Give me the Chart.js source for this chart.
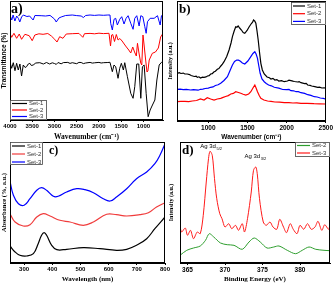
<!DOCTYPE html>
<html>
<head>
<meta charset="utf-8">
<script src="https://cdn.jsdelivr.net/npm/chart.js@4.4.1/dist/chart.umd.min.js"></script>
<style>
html, body { margin: 0; padding: 0; background: #fff; }
#wrap { position: relative; width: 334px; height: 284px; overflow: hidden; }
.panel { position: absolute; }
</style>
</head>
<body>
<div id="wrap">
  <div class="panel" style="left:0;top:0;width:165px;height:142px"><canvas id="chartA"></canvas></div>
  <div class="panel" style="left:167px;top:0;width:167px;height:142px"><canvas id="chartB"></canvas></div>
  <div class="panel" style="left:0;top:140px;width:174px;height:144px"><canvas id="chartC"></canvas></div>
  <div class="panel" style="left:167px;top:140px;width:167px;height:144px"><canvas id="chartD"></canvas></div>
</div>
<script>
// a) FTIR  [wavenumber cm-1, transmittance (offset)]
const ftirSet1 = [[4000,55.7],[3963,49.7],[3926,55.3],[3888,47.3],[3851,54.7],[3814,48],[3777,54],[3740,42],[3702,53],[3660,50.5],[3628,51.3],[3590,54],[3553,54.7],[3520,52.5],[3479,53],[3420,55],[3330,55.3],[3250,54],[3180,55.5],[3107,54],[3050,55.2],[3000,54.5],[2960,53.6],[2920,55.5],[2850,54.2],[2800,55.4],[2700,55.6],[2650,54.6],[2600,55.3],[2500,54.3],[2450,55.6],[2400,55.5],[2350,54.4],[2300,55],[2200,55.6],[2150,54.9],[2100,55.2],[2000,55.6],[1950,55],[1900,55.3],[1800,55.5],[1752,55.7],[1699,46.3],[1661,53],[1624,51.3],[1571,39.7],[1533,49.7],[1496,54.7],[1451,48],[1420,55.3],[1360,41.3],[1285,24.7],[1233,19.7],[1195,31.3],[1150,54],[1105,54],[1059,19.7],[1023,51.3],[984,53],[939,24.7],[894,1.3],[849,8],[797,13],[743,18],[698,38],[646,53],[594,55.7],[560,56]];
const ftirSet2 = [[4000,84.7],[3963,80.7],[3911,84.7],[3851,79.7],[3792,84],[3740,78.7],[3665,83.7],[3568,82.3],[3501,77.3],[3442,83],[3350,84.2],[3256,83.7],[3150,84.5],[3070,82],[2995,78.7],[2943,76],[2883,81.3],[2809,79.7],[2735,84],[2600,84.3],[2450,84.6],[2362,80.7],[2325,84.3],[2200,84.6],[2100,84.2],[2000,84.8],[1900,84.4],[1774,84.7],[1740,72],[1715,83],[1690,83.5],[1650,76.5],[1610,83.5],[1570,78],[1530,79.5],[1480,77],[1400,72],[1330,68],[1285,65],[1240,71],[1200,66],[1160,62],[1134,74.7],[1100,65],[1060,55],[1037,53],[1010,83],[990,75],[950,58],[920,46],[900,47],[870,58],[800,64.7],[730,66],[665,70],[613,81],[560,84.7]];
const ftirSet3 = [[4000,103],[3960,98],[3930,103],[3890,97],[3850,102],[3810,99.5],[3780,96],[3740,101],[3700,103],[3620,101.5],[3560,102],[3480,98],[3440,102.5],[3300,102.3],[3200,102],[3100,102.6],[3000,99],[2960,96],[2900,100],[2850,101],[2750,102.5],[2600,103],[2500,102.4],[2400,102],[2350,100.5],[2300,102.5],[2200,103],[2100,102.6],[2000,103],[1900,102.7],[1800,103],[1752,103],[1736,94.7],[1699,88],[1661,98.7],[1624,99.7],[1586,93],[1533,98.7],[1488,101.3],[1436,94],[1390,99.7],[1345,102.3],[1285,94.7],[1233,88.7],[1195,99.7],[1150,102.3],[1097,92],[1059,102.3],[1014,101.3],[969,91.3],[939,84.7],[909,96.3],[849,99.7],[759,99.7],[684,102.3],[624,93],[594,102.3],[560,103]];
const ftirTicks = [4000, 3500, 3000, 2500, 2000, 1500, 1000];

// b) Raman  [wavenumber cm-1, intensity a.u.]
const ramanSet1 = [[603,58.7],[630,59.3],[650,58.5],[680,58.9],[700,58],[731,58],[760,57.4],[780,56.5],[820,55.5],[845,55.9],[859,54.7],[880,55.2],[900,54],[925,54.9],[945,54.7],[970,55.1],[990,56],[1010,56.4],[1030,58],[1050,58.3],[1070,60],[1090,60.8],[1115,62.7],[1135,63.4],[1160,66],[1180,67.8],[1201,70.3],[1235,75.5],[1265,82],[1290,89],[1308,95.3],[1330,101],[1350,105.3],[1365,104.8],[1381,106],[1400,104],[1423,102],[1445,99.5],[1466,98.7],[1495,101.5],[1522,105.3],[1550,108.5],[1565,109.8],[1577,112],[1592,111],[1607,108.7],[1622,101],[1637,92],[1655,79],[1671,68.7],[1690,62],[1714,58],[1750,55],[1780,54.2],[1800,53],[1825,53.6],[1850,52],[1875,52.4],[1900,51],[1935,51.4],[1970,50.3],[2010,51],[2030,51.8],[2055,51.3],[2080,50.8],[2100,50.5],[2140,50],[2160,50.4],[2183,49.3],[2230,48.3],[2250,48.7],[2269,47],[2300,46.6],[2320,46],[2360,45.3],[2397,44.7],[2420,44.9],[2450,44],[2480,44.2],[2500,43.7]];
const ramanSet2 = [[603,30.3],[650,30.7],[700,30.7],[750,30.4],[795,31],[850,31.5],[900,33],[945,32],[987,34.3],[1030,33],[1073,32],[1115,33],[1158,33.7],[1190,34.6],[1220,35.5],[1255,36.4],[1287,38],[1320,38.6],[1350,40.3],[1385,39.5],[1414,38.7],[1445,37.8],[1478,37],[1515,38],[1543,40.3],[1570,44],[1594,47],[1610,44],[1628,40.3],[1650,36.5],[1671,33.7],[1710,32],[1757,31],[1800,30.6],[1850,30],[1910,29.8],[1970,29.3],[2030,29.4],[2080,29],[2130,29.1],[2183,28.7],[2260,28.6],[2350,28.3],[2420,28.2],[2500,28]];
const ramanSet3 = [[603,42.7],[640,42.9],[680,42.3],[720,42.6],[774,42],[810,42.4],[840,42.2],[870,41.8],[901,42.7],[930,42.9],[960,43.5],[1000,43.9],[1030,44.7],[1060,45.1],[1090,46.5],[1125,47.2],[1158,48.7],[1200,51.5],[1244,55.3],[1275,61],[1308,67],[1335,70.5],[1363,72],[1385,71.8],[1406,71],[1435,69],[1466,68],[1505,71],[1543,75.3],[1570,78.5],[1594,80.3],[1610,78],[1628,73.7],[1645,66],[1662,58.7],[1685,53],[1714,50.3],[1740,48.6],[1770,47],[1805,46.2],[1842,44.7],[1900,43.8],[1950,42.5],[2000,42.3],[2030,42.6],[2055,41.3],[2090,41.2],[2120,40.3],[2150,40.4],[2183,39.3],[2230,38.6],[2270,37.3],[2310,36.6],[2354,35.3],[2390,35],[2430,34],[2470,33.6],[2503,32.7]];
const ramanTicks = [1000, 1500, 2000, 2500];

// c) UV-Vis  [wavelength nm, absorbance a.u.]
const uvSet1 = [[250,18],[268,12],[285,8.7],[309,8],[333,10.3],[350,20.3],[362,28.7],[371,31.3],[380,28.7],[398,18.7],[416,14.3],[451,14.7],[510,16.3],[569,15.3],[628,13.7],[664,14.7],[699,18.7],[735,25.3],[764,35.3],[800,47]];
const uvSet2 = [[250,50.3],[268,42],[297,38],[321,39.3],[345,47],[368,50.3],[392,48],[427,43.7],[463,42],[510,38.7],[546,42],[593,49.7],[628,49.3],[664,48],[711,49.3],[741,51.3],[770,57],[800,61.3]];
const uvSet3 = [[250,82.7],[262,68.7],[280,60.3],[300,58.7],[321,65.3],[345,73.7],[362,76.3],[380,73.7],[404,67.7],[421,67.7],[451,72],[487,75.3],[516,74.3],[546,71.3],[581,65.3],[605,63],[628,67],[664,75.3],[699,85.3],[735,92],[764,100.3],[782,108.7],[800,120.3]];
const uvTicks = [300, 400, 500, 600, 700, 800];

// d) XPS Ag 3d  [binding energy eV, intensity a.u.]
const xpsSet2 = [[364,8.7],[364.9,13.7],[365.8,16],[366.7,18],[367.4,23.7],[367.9,30.3],[368.5,27],[369.4,21],[370.3,19.3],[371.2,18.7],[372.3,14.7],[373.2,22],[373.9,26],[374.7,22],[375.6,16],[376.5,17],[377.2,18],[378.3,13.7],[379.4,10.3],[380.3,13.7],[381.2,17],[382.1,14.7],[383.2,13.7],[384,13.3]];
const xpsSet3 = [[363.9,43.7],[364.2,32],[364.7,36],[365,28.7],[365.4,33.7],[365.8,25.3],[366.3,32],[366.7,30.3],[367.1,48.7],[367.5,82],[367.8,105.3],[368,112.7],[368.3,108.7],[368.6,85.3],[368.9,65.3],[369.3,50.3],[369.6,45.3],[370,37],[370.5,40.3],[370.9,35.3],[371.4,38.7],[371.8,33.7],[372.3,40.3],[372.6,32],[373,45.3],[373.5,72],[373.8,93.7],[374.1,97],[374.3,90.3],[374.6,65.3],[375.1,42],[375.5,38.7],[376,42],[376.4,37],[376.9,34.7],[377.3,44.7],[377.8,37],[378.2,31.3],[378.7,40.3],[379.1,34.7],[379.6,30.3],[380,38.7],[380.5,34.7],[381,40.3],[381.5,34.7],[382,37],[382.4,42.7],[382.9,33.7],[383.3,39.3],[383.8,34.7],[384,39.3]];
const xpsTicks = [365, 370, 375, 380];

const pts = arr => arr.map(p => ({ x: p[0], y: p[1] }));

// caja alrededor del área de datos
const frameBox = {
    id: 'frameBox',
    afterDatasetsDraw(chart) {
        const { ctx, chartArea: a } = chart;
        ctx.save();
        ctx.strokeStyle = '#000';
        ctx.lineWidth = 1;
        ctx.strokeRect(Math.round(a.left) + 0.5, Math.round(a.top) + 0.5,
            Math.round(a.right - a.left) - 1, Math.round(a.bottom - a.top) - 1);
        ctx.restore();
    }
};

// leyenda dentro del gráfico, con marco
const boxLegend = {
    id: 'boxLegend',
    afterDraw(chart, args, o) {
        const ctx = chart.ctx;
        ctx.save();
        ctx.fillStyle = '#fff';
        ctx.fillRect(o.x, o.y, o.w, o.h);
        ctx.strokeStyle = '#444';
        ctx.lineWidth = 0.8;
        ctx.strokeRect(o.x + 0.5, o.y + 0.5, o.w - 1, o.h - 1);
        ctx.font = '6px "Liberation Sans", Arial, sans-serif';
        ctx.textBaseline = 'middle';
        chart.data.datasets.forEach((ds, i) => {
            const y = o.y + o.first + i * o.step;
            ctx.strokeStyle = ds.borderColor;
            ctx.lineWidth = 1.2;
            ctx.beginPath();
            ctx.moveTo(o.x + 2, y);
            ctx.lineTo(o.x + o.line, y);
            ctx.stroke();
            ctx.fillStyle = '#333';
            ctx.fillText(ds.label, o.x + o.line + 2, y);
        });
        ctx.restore();
    }
};

// letra del panel y anotaciones
const panelText = {
    id: 'panelText',
    afterDraw(chart, args, o) {
        const ctx = chart.ctx;
        ctx.save();
        ctx.fillStyle = '#000';
        ctx.textBaseline = 'alphabetic';
        ctx.font = 'bold ' + o.size + 'px "Liberation Serif", "Times New Roman", serif';
        ctx.fillText(o.label, o.x, o.y);
        (o.notes || []).forEach(n => {
            const x = chart.scales.x.getPixelForValue(n.at);
            ctx.font = '6px "Liberation Sans", Arial, sans-serif';
            ctx.fillText(n.text, x, n.y);
            const w = ctx.measureText(n.text).width;
            ctx.font = '4px "Liberation Sans", Arial, sans-serif';
            ctx.fillText(n.sub, x + w + 0.5, n.y + 1.5);
        });
        ctx.restore();
    }
};

function makeChart(id, p) {
    const serif = '"Liberation Serif", "Times New Roman", serif';
    const sans = '"Liberation Sans", Arial, sans-serif';
    return new Chart(document.getElementById(id), {
        type: 'line',
        data: {
            datasets: p.series.map(s => ({
                label: s.label,
                data: pts(s.data),
                borderColor: s.color,
                borderWidth: p.lw,
                pointRadius: 0,
                tension: p.tension,
                fill: false
            }))
        },
        options: {
            responsive: true,
            maintainAspectRatio: false,
            animation: false,
            events: [],
            layout: { padding: p.pad },
            plugins: {
                legend: { display: false },
                tooltip: { enabled: false },
                boxLegend: p.legend,
                panelText: p.text
            },
            scales: {
                x: {
                    type: 'linear',
                    min: p.xMin,
                    max: p.xMax,
                    reverse: !!p.reverse,
                    afterFit: s => { s.height = p.xH; },
                    afterBuildTicks: s => { s.ticks = p.ticks.map(v => ({ value: v })); },
                    ticks: {
                        autoSkip: false,
                        maxRotation: 0,
                        padding: 1,
                        color: '#000',
                        callback: v => String(v),
                        font: { family: sans, size: p.tickSize, weight: 'bold' }
                    },
                    grid: { drawOnChartArea: false, drawTicks: true, tickLength: 2, color: '#000' },
                    border: { display: true, color: '#000' },
                    title: {
                        display: true,
                        text: p.xTitle,
                        color: '#000',
                        padding: { top: 0, bottom: p.xTitlePad },
                        font: { family: p.xTitleSans ? sans : serif, size: p.xTitleSize, weight: 'bold' }
                    }
                },
                y: {
                    min: p.yMin,
                    max: p.yMax,
                    afterFit: s => { s.width = p.yW; },
                    ticks: { display: false },
                    grid: { display: false },
                    border: { display: true, color: '#000' },
                    title: {
                        display: true,
                        text: p.yTitle,
                        color: '#000',
                        padding: { top: p.yTitlePad, bottom: 0 },
                        font: { family: p.yTitleSans ? sans : serif, size: p.yTitleSize, weight: 'bold' }
                    }
                }
            }
        },
        plugins: [frameBox, boxLegend, panelText]
    });
}

makeChart('chartA', {
    series: [
        { label: 'Set-1', data: ftirSet1, color: '#000000' },
        { label: 'Set-2', data: ftirSet2, color: '#ff0000' },
        { label: 'Set-3', data: ftirSet3, color: '#0000ff' }
    ],
    lw: 1, tension: 0,
    xMin: 560, xMax: 4000, reverse: true, ticks: ftirTicks,
    yMin: -2, yMax: 117,
    pad: { top: 1, right: 2, left: 0, bottom: 0 },
    xH: 22, yW: 10, tickSize: 6,
    xTitle: 'Wavenumber (cm\u207B\u00B9)', xTitleSize: 7.5, xTitlePad: 0,
    yTitle: 'Transmittance (%)', yTitleSize: 6.5, yTitleSans: true, yTitlePad: 0,
    legend: { x: 10, y: 100, w: 37, h: 20, first: 3.5, step: 6.5, line: 17 },
    text: { label: 'a)', x: 11, y: 13, size: 14 }
});

makeChart('chartB', {
    series: [
        { label: 'Set-1', data: ramanSet1, color: '#000000' },
        { label: 'Set-2', data: ramanSet2, color: '#ff0000' },
        { label: 'Set-3', data: ramanSet3, color: '#0000ff' }
    ],
    lw: 1.2, tension: 0,
    xMin: 600, xMax: 2500, ticks: ramanTicks,
    yMin: 11, yMax: 131,
    pad: { top: 1, right: 8, left: 0, bottom: 0 },
    xH: 21, yW: 10, tickSize: 6.5,
    xTitle: 'Wavenumber (cm\u207B\u00B9)', xTitleSize: 6.5, xTitleSans: true, xTitlePad: 1,
    yTitle: 'Intensity (a.u.)', yTitleSize: 6, yTitlePad: 0,
    legend: { x: 124, y: 2, w: 35, h: 23, first: 4, step: 7.7, line: 14 },
    text: { label: 'b)', x: 12, y: 13, size: 13 }
});

makeChart('chartC', {
    series: [
        { label: 'Set-1', data: uvSet1, color: '#000000' },
        { label: 'Set-2', data: uvSet2, color: '#f03c3c' },
        { label: 'Set-3', data: uvSet3, color: '#0000ff' }
    ],
    lw: 1.2, tension: 0.4,
    xMin: 250, xMax: 800, ticks: uvTicks,
    yMin: 1, yMax: 122,
    pad: { top: 2, right: 9, left: 0, bottom: 0 },
    xH: 21, yW: 10, tickSize: 6,
    xTitle: 'Wavelength (nm)', xTitleSize: 7, xTitlePad: 1,
    yTitle: 'Absorbance (%, a.u.)', yTitleSize: 6.5, yTitlePad: 0,
    legend: { x: 10, y: 2, w: 33, h: 23, first: 4, step: 8, line: 15 },
    text: { label: 'c)', x: 49, y: 14, size: 12 }
});

makeChart('chartD', {
    series: [
        { label: 'Set-2', data: xpsSet2, color: '#2e9e2e' },
        { label: 'Set-3', data: xpsSet3, color: '#ff1a1a' }
    ],
    lw: 1, tension: 0.3,
    xMin: 364, xMax: 384, ticks: xpsTicks,
    yMin: 1, yMax: 122,
    pad: { top: 2, right: 4, left: 0, bottom: 0 },
    xH: 21, yW: 13, tickSize: 6.5,
    xTitle: 'Binding Energy (eV)', xTitleSize: 7, xTitlePad: 1,
    yTitle: 'Intensity (a.u.)', yTitleSize: 6, yTitlePad: 1,
    legend: { x: 128, y: 2, w: 35, h: 15, first: 3.5, step: 7.5, line: 15 },
    text: {
        label: 'd)', x: 15, y: 14, size: 13,
        notes: [
            { text: 'Ag 3d', sub: '5/2', at: 366.7, y: 8 },
            { text: 'Ag 3d', sub: '3/2', at: 372.6, y: 18 }
        ]
    }
});
</script>
</body>
</html>
